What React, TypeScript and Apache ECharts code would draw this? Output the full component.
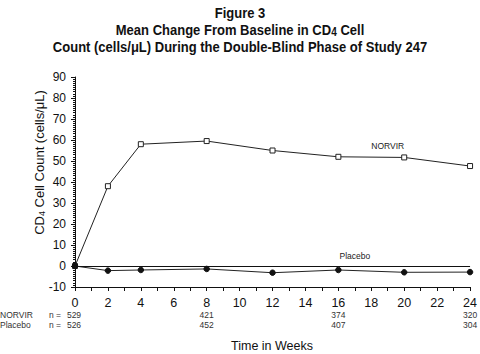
import React, { useEffect, useRef } from "react";
import * as echarts from "echarts";

const weeks = [0, 2, 4, 8, 12, 16, 20, 24];
const norvir = [0, 38, 58, 59.5, 55, 52, 51.7, 47.6];
const placebo = [0, -2.2, -1.9, -1.4, -3.2, -1.9, -3, -2.9];
const nWeeks = [0, 8, 16, 24];
const nNorvir = [529, 421, 374, 320];
const nPlacebo = [526, 452, 407, 304];
const seriesNames = ["NORVIR", "Placebo"];
const titleLines = [
  "{b|Figure 3}",
  "{b|Mean Change From Baseline in CD}{s|4}{b| Cell}",
  "{b|Count (cells/\u03bcL) During the Double-Blind Phase of Study 247}",
];

const FONT = "Liberation Sans, Arial, sans-serif";

export default function App() {
  const ref = useRef<HTMLDivElement>(null);
  useEffect(() => {
    const chart = echarts.init(ref.current!, null, { renderer: "svg" });
    const option: any = {
      animation: false,
      backgroundColor: "#fff",
      textStyle: { fontFamily: FONT },
      grid: { left: 75, right: 9, top: 77, bottom: 67 },
      xAxis: {
        type: "value",
        min: 0,
        max: 24,
        interval: 2,
        axisLine: { onZero: false, lineStyle: { color: "#111", width: 1 } },
        axisTick: { length: 4, lineStyle: { color: "#111" } },
        minorTick: { show: true, splitNumber: 2, length: 4, lineStyle: { color: "#111" } },
        splitLine: { show: false },
        axisLabel: { color: "#111", fontSize: 12.5, margin: 9, fontFamily: FONT },
      },
      yAxis: {
        type: "value",
        min: -10,
        max: 90,
        interval: 10,
        axisLine: { show: true, lineStyle: { color: "#111", width: 1 } },
        axisTick: { length: 4, lineStyle: { color: "#111" } },
        minorTick: { show: true, splitNumber: 10, length: 2, lineStyle: { color: "#111" } },
        splitLine: { show: false },
        axisLabel: { color: "#111", fontSize: 12, margin: 9, fontFamily: FONT },
      },
      series: [
        {
          name: seriesNames[0],
          type: "line",
          data: weeks.map((w, i) => [w, norvir[i]]),
          symbol: "rect",
          symbolSize: 5,
          itemStyle: { color: "#fff", borderColor: "#222", borderWidth: 1 },
          lineStyle: { color: "#222", width: 1 },
          markLine: {
            silent: true,
            symbol: "none",
            label: { show: false },
            lineStyle: { color: "#111", width: 1.2, type: "solid" },
            data: [{ yAxis: 0 }],
          },
          z: 3,
        },
        {
          name: seriesNames[1],
          type: "line",
          data: weeks.map((w, i) => [w, placebo[i]]),
          symbol: "circle",
          symbolSize: 5.5,
          itemStyle: { color: "#111", borderColor: "#111" },
          lineStyle: { color: "#222", width: 1 },
          z: 4,
        },
      ],
    };
    chart.setOption(option);

    const px = (w: number, v: number) => chart.convertToPixel({ gridIndex: 0 }, [w, v]);
    const small = { fontSize: 8.5, fill: "#333", fontFamily: FONT };
    const titleRich = {
      b: { fontFamily: FONT, fontWeight: "bold", fontSize: 15.5, fill: "#111" },
      s: { fontFamily: FONT, fontWeight: "bold", fontSize: 12, fill: "#111", padding: [4, 0, 0, 0] },
    };
    const graphics: any[] = [];
    const titleY = [12.5, 30, 46.5];
    titleLines.forEach((t, i) => {
      graphics.push({
        type: "text",
        x: 240,
        y: titleY[i],
        scaleX: 0.84,
        style: { text: t, rich: titleRich, align: "center", verticalAlign: "middle" },
      });
    });
    graphics.push({
      type: "text",
      x: 39,
      y: 162.5,
      rotation: Math.PI / 2,
      style: {
        text: "{a|CD}{s|4}{a| Cell Count (cells/\u03bcL)}",
        align: "center",
        verticalAlign: "middle",
        rich: {
          a: { fontSize: 13, fill: "#111", fontFamily: FONT },
          s: { fontSize: 9, fill: "#111", fontFamily: FONT, padding: [5, 0, 0, 0] },
        },
      },
    });
    const rowY = [315, 325];
    graphics.push(
      { type: "text", x: 0, y: rowY[0], style: { text: seriesNames[0], ...small, verticalAlign: "middle" } },
      { type: "text", x: 0, y: rowY[1], style: { text: seriesNames[1], ...small, verticalAlign: "middle" } },
      { type: "text", x: 49, y: rowY[0], style: { text: "n =", ...small, verticalAlign: "middle" } },
      { type: "text", x: 49, y: rowY[1], style: { text: "n =", ...small, verticalAlign: "middle" } },
      {
        type: "text",
        x: 272,
        y: 346,
        style: { text: "Time in Weeks", fontSize: 12.5, fill: "#111", fontFamily: FONT, align: "center", verticalAlign: "middle" },
      }
    );
    nWeeks.forEach((w, i) => {
      const x = px(w, 0)[0] - (i === 0 ? 1 : 0);
      graphics.push({
        type: "text",
        x,
        y: rowY[0],
        style: { text: String(nNorvir[i]), ...small, align: "center", verticalAlign: "middle" },
      });
      graphics.push({
        type: "text",
        x,
        y: rowY[1],
        style: { text: String(nPlacebo[i]), ...small, align: "center", verticalAlign: "middle" },
      });
    });
    const pN = px(19, 57);
    const pP = px(17, 4.8);
    graphics.push({
      type: "text",
      x: pN[0],
      y: pN[1],
      style: { text: seriesNames[0], fontSize: 8.5, fill: "#222", fontFamily: FONT, align: "center", verticalAlign: "middle" },
    });
    graphics.push({
      type: "text",
      x: pP[0],
      y: pP[1],
      style: { text: seriesNames[1], fontSize: 8.5, fill: "#222", fontFamily: FONT, align: "center", verticalAlign: "middle" },
    });
    chart.setOption({ graphic: graphics });
    return () => chart.dispose();
  }, []);
  return <div ref={ref} style={{ width: 480, height: 354, position: "absolute", left: 0, top: 0 }} />;
}
